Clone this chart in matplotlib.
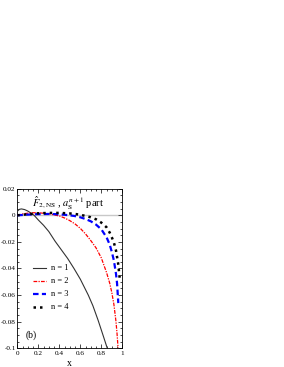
import matplotlib
matplotlib.use("Agg")
import matplotlib.pyplot as plt
from matplotlib.ticker import MultipleLocator

plt.rcParams['font.family'] = ['Liberation Serif', 'DejaVu Serif']
plt.rcParams['mathtext.fontset'] = 'stix'

x_n1 = [0, 0.02, 0.04, 0.07, 0.1, 0.13, 0.16, 0.2, 0.25, 0.3, 0.36, 0.42, 0.48, 0.54, 0.6, 0.676, 0.72, 0.77, 0.82, 0.857]
y_n1 = [0.003, 0.0045, 0.0048, 0.0043, 0.0032, 0.0017, 0.0, -0.0035, -0.0075, -0.0122, -0.0195, -0.026,
        -0.0325, -0.04, -0.048, -0.06, -0.068, -0.079, -0.091, -0.1]

x_n2 = [0, 0.05, 0.1, 0.15, 0.2, 0.3, 0.4, 0.45, 0.5, 0.55, 0.6, 0.65, 0.7, 0.75, 0.8, 0.85, 0.88, 0.9,
        0.92, 0.94, 0.95, 0.96]
y_n2 = [0, 0.001, 0.0016, 0.0019, 0.0019, 0.0012, -0.0005, -0.002, -0.004, -0.0065, -0.0098, -0.014,
        -0.019, -0.0245, -0.032, -0.043, -0.051, -0.058, -0.067, -0.08, -0.089, -0.1]

x_n3 = [0, 0.1, 0.2, 0.3, 0.4, 0.5, 0.55, 0.6, 0.65, 0.7, 0.75, 0.8, 0.85, 0.88, 0.9, 0.92, 0.94, 0.95, 0.962]
y_n3 = [0, 0.0005, 0.0009, 0.001, 0.0008, 0.0, -0.0006, -0.0015, -0.0028, -0.0045, -0.007, -0.0105,
        -0.0165, -0.022, -0.0275, -0.034, -0.044, -0.051, -0.066]

x_n4 = [0, 0.1, 0.2, 0.3, 0.4, 0.5, 0.55, 0.6, 0.65, 0.7, 0.75, 0.8, 0.85, 0.88, 0.9, 0.92, 0.94, 0.96, 0.975]
y_n4 = [0, 0.0008, 0.0015, 0.0018, 0.0018, 0.0014, 0.001, 0.0004, -0.0005, -0.0015, -0.003, -0.0055,
        -0.009, -0.013, -0.0165, -0.0205, -0.0265, -0.036, -0.047]

labels = ['n = 1', 'n = 2', 'n = 3', 'n = 4']

fig = plt.figure(figsize=(2.84, 3.67), dpi=100)
ax = fig.add_axes([0.0609, 0.0510, 0.3697, 0.4348])

ax.axhline(0, color='#c8c8c8', lw=1.0, zorder=1)
ax.plot(x_n1, y_n1, color='#333333', lw=0.8, ls='-', label=labels[0], zorder=3)
ax.plot(x_n2, y_n2, color='red', lw=0.9, ls=(0, (3, 1, 1, 1)), label=labels[1], zorder=3)
ax.plot(x_n3, y_n3, color='blue', lw=1.6, ls=(0, (2.5, 1.5)), label=labels[2], zorder=3)
ax.plot(x_n4, y_n4, color='black', lw=1.8, ls=(0, (1, 1.6)), label=labels[3], zorder=3)

ax.set_xlim(0, 1)
ax.set_ylim(-0.1, 0.02)
ax.xaxis.set_minor_locator(MultipleLocator(0.05))
ax.yaxis.set_minor_locator(MultipleLocator(0.005))
ax.set_xticks([0, 0.2, 0.4, 0.6, 0.8, 1])
ax.set_xticklabels(['0', '0.2', '0.4', '0.6', '0.8', '1'])
ax.set_yticks([0.02, 0, -0.02, -0.04, -0.06, -0.08, -0.1])
ax.set_yticklabels(['0.02', '0', '-0.02', '-0.04', '-0.06', '-0.08', '-0.1'])
ax.tick_params(which='both', direction='in', top=True, right=True, labelsize=5.2, width=0.5)
ax.tick_params(axis='y', pad=1.2)
ax.tick_params(axis='x', pad=2)
ax.tick_params(which='major', length=3)
ax.tick_params(which='minor', length=1.5)
for s in ax.spines.values():
    s.set_linewidth(0.6)

ax.set_xlabel('x', fontsize=7)
ax.xaxis.set_label_coords(0.5, -0.066)

ax.text(0.14, 0.91, r'$\hat{F}_{2,\mathrm{NS}}$ , $a_\mathrm{S}^{n+1}$ part', transform=ax.transAxes,
        fontsize=7.5, ha='left', va='center')
ax.text(0.075, 0.083, '(b)', transform=ax.transAxes, fontsize=7, ha='left', va='center')

ax.legend(loc='center left', bbox_to_anchor=(0.145, 0.378), frameon=False, fontsize=6,
          handlelength=1.6, handletextpad=0.6, labelspacing=0.6, borderaxespad=0, borderpad=0)

fig.savefig('out.png', dpi=100)
